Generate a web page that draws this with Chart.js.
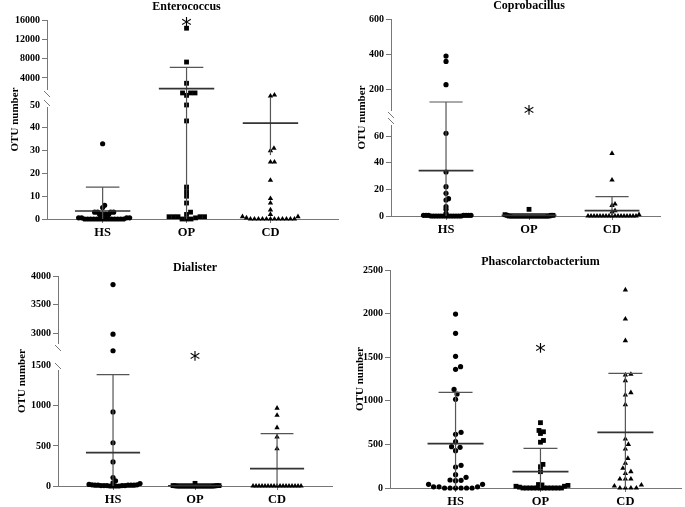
<!DOCTYPE html>
<html>
<head>
<meta charset="utf-8">
<title>OTU number by group</title>
<script src="https://cdn.jsdelivr.net/npm/chart.js@4.4.1/dist/chart.umd.min.js"></script>
<style>
  body { margin: 0; background: #fff; }
  #wrap { position: relative; width: 685px; height: 507px; }
  canvas { position: absolute; }
</style>
</head>
<body>
<div id="wrap">
  <canvas id="c1" width="342" height="245" style="left:0;top:0"></canvas>
  <canvas id="c2" width="343" height="245" style="left:342px;top:0"></canvas>
  <canvas id="c3" width="342" height="262" style="left:0;top:245px"></canvas>
  <canvas id="c4" width="343" height="262" style="left:342px;top:245px"></canvas>
</div>
<script>
const groups = ['HS', 'OP', 'CD'];
const yTitle = 'OTU number';

// Enterococcus (broken axis)
const enteroHS = [33, 6, 5, 3, 2, 3, 2, 3, 2, 2, 3, 0, 0.5, 0, 0, 0.5, 0, 0, 0, 0, 0.5, 0, 0, 0, 0, 0.5, 0, 0, 0];
const enteroOP = [14300, 7300, 2900, 900, 900, 900, 400, 50, 43, 14, 12, 10, 7, 1, 1, 3, 1, 0, 1, 0, 1, 2, 0, 0.5];
const enteroCD = [470, 270, 31, 30, 25, 25, 17, 9, 7, 4, 2, 0.5, 1, 0, 1, 0, 0, 0, 0, 0, 0, 0, 0, 0, 0, 0];
const enteroMean = [3.5, 1780, 42];
const enteroSD = [10.5, 4420, 14];
const enteroTicksLow = [0, 10, 20, 30, 40, 50];
const enteroTicksHigh = [4000, 8000, 12000, 16000];
const enteroStar = 15580;

// Coprobacillus (broken axis)
const coproHS = [390, 360, 228, 62, 33, 22, 17, 13, 12, 7, 5, 0.5, 0.5, 0, 0.5, 0, 0, 0.5, 0, 0, 0, 0, 0, 0, 0, 0.5, 0, 0, 0.5, 2, 0.5, 0];
const coproOP = [5, 0.5, 0, 0, 0.5, 0, 0, 0, 0, 0, 0, 0, 0, 0, 0, 0, 0, 0, 1, 0.5, 0, 0, 0, 0, 0, 0];
const coproCD = [47, 27, 9, 8, 4, 3, 0, 0, 0, 0, 0, 0, 0, 0, 0, 0, 0, 0, 0, 0, 0, 0, 0, 1];
const coproMean = [34, 0.5, 4];
const coproSD = [96, 0.8, 10.5];
const coproTicksLow = [0, 20, 40, 60];
const coproTicksHigh = [200, 400, 600];
const coproStar = 85;

// Dialister (broken axis)
const dialHS = [3850, 2980, 2690, 925, 540, 300, 105, 65, 40, 30, 10, 5, 15, 0, 10, 5, 0, 10, 0, 5, 10, 20, 15, 5, 0, 10, 5];
const dialOP = [0, 5, 0, 0, 3, 0, 0, 5, 0, 0, 0, 2, 0, 0, 0, 0, 0, 33, 5, 0, 0, 0, 0, 0, 0];
const dialCD = [971, 883, 729, 612, 466, 0, 0, 0, 0, 0, 0, 0, 0, 0, 0, 0, 0, 0, 0, 0, 0, 0];
const dialMean = [416, 3, 217];
const dialSD = [974, 6, 437];
const dialTicksLow = [0, 500, 1000, 1500];
const dialTicksHigh = [3000, 3500, 4000];
const dialStar = 2602;

// Phascolarctobacterium
const phascHS = [1995, 1774, 1510, 1391, 1361, 1131, 1078, 1017, 638, 616, 531, 474, 466, 428, 260, 241, 153, 122, 92, 88, 84, 42, 42, 0, 13, 0, 13, 0, 13, 0, 0, 0];
const phascOP = [749, 660, 645, 625, 545, 525, 271, 244, 187, 0, 20, 35, 40, 30, 0, 20, 0, 0, 0, 0, 10, 0, 0, 0, 0, 0, 0];
const phascCD = [2271, 1938, 1690, 1304, 1296, 1231, 1093, 1067, 955, 562, 500, 447, 340, 283, 226, 187, 168, 103, 103, 103, 34, 23, 0, 0, 0, 0];
const phascMean = [508, 187, 638];
const phascSD = [589, 268, 677];
const phascTicks = [0, 500, 1000, 1500, 2000, 2500];
const phascStar = 1605;

const panels = [
  { canvas: 'c1', x0: 0, y0: 0, title: 'Enterococcus', series: [enteroHS, enteroOP, enteroCD],
    mean: enteroMean, sd: enteroSD, star: enteroStar,
    low: { min: 0, max: 53.5, ticks: enteroTicksLow }, high: { min: 60, max: 16000, ticks: enteroTicksHigh },
    box: { left: 47, top: 20, right: 340, bottom: 219, split: 97 }, gap: [7, 10],
    xMin: 0.337, xMax: 3.805, yTitleX: 15, titleY: 7, spread: 4.5, maxHalf: 28 },
  { canvas: 'c2', x0: 342, y0: 0, title: 'Coprobacillus', series: [coproHS, coproOP, coproCD],
    mean: coproMean, sd: coproSD, star: coproStar,
    low: { min: 0, max: 72, ticks: coproTicksLow }, high: { min: 28, max: 600, ticks: coproTicksHigh },
    box: { left: 391, top: 19, right: 660, bottom: 216, split: 120 }, gap: [9, 5],
    xMin: 0.337, xMax: 3.578, yTitleX: 362, titleY: 6, spread: 4, maxHalf: 27 },
  { canvas: 'c3', x0: 0, y0: 245, title: 'Dialister', series: [dialHS, dialOP, dialCD],
    mean: dialMean, sd: dialSD, star: dialStar,
    low: { min: 0, max: 1610, ticks: dialTicksLow }, high: { min: 2580, max: 4000, ticks: dialTicksHigh },
    box: { left: 58, top: 276, right: 332, bottom: 486, split: 357 }, gap: [13, 13],
    xMin: 0.329, xMax: 3.67, yTitleX: 22, titleY: 268, spread: 4, maxHalf: 27 },
  { canvas: 'c4', x0: 342, y0: 245, title: 'Phascolarctobacterium', series: [phascHS, phascOP, phascCD],
    mean: phascMean, sd: phascSD, star: phascStar,
    low: { min: 0, max: 2500, ticks: phascTicks }, high: null,
    box: { left: 390, top: 270, right: 683, bottom: 488 },
    xMin: 0.228, xMax: 3.655, yTitleX: 360, titleY: 261.5, spread: 5.5, maxHalf: 28 }
];

const shapes = ['circle', 'rect', 'triangle'];
const radii = [2.6, 3.4, 3.1];
const axisColor = '#777';

Chart.defaults.font.family = '"Liberation Serif", "Times New Roman", serif';
Chart.defaults.font.weight = 'bold';
Chart.defaults.color = '#000';

// values above the lower segment go on the upper one
function segId(p, v) {
  return p.high && v > p.low.max ? 'yHigh' : 'yLow';
}

function segList(chart, p) {
  return p.high ? [chart.scales.yLow, chart.scales.yHigh] : [chart.scales.yLow];
}

function line(ctx, x1, y1, x2, y2) {
  ctx.beginPath();
  ctx.moveTo(x1, y1);
  ctx.lineTo(x2, y2);
  ctx.stroke();
}

function yScale(p, seg, weight, width) {
  return {
    type: 'linear',
    position: 'left',
    min: seg.min,
    max: seg.max,
    bounds: 'data',
    stack: p.high ? 'y' : undefined,
    stackWeight: weight,
    afterFit: s => { s.width = width; },
    afterBuildTicks: s => { s.ticks = seg.ticks.map(v => ({ value: v })); },
    ticks: { callback: v => String(v), autoSkip: false, color: '#000', font: { size: 10, weight: 'bold' }, padding: 2 },
    grid: { drawOnChartArea: false, tickLength: 5, color: axisColor },
    border: { color: axisColor, width: 1 }
  };
}

function decor(p) {
  return {
    id: 'decor',
    afterDatasetsDraw(chart) {
      const ctx = chart.ctx;
      const xs = chart.scales.x;
      const unit = xs.getPixelForValue(2) - xs.getPixelForValue(1);
      const segs = segList(chart, p);
      p.mean.forEach((m, gi) => {
        const cx = xs.getPixelForValue(gi + 1);
        const up = m + p.sd[gi];
        const lo = Math.max(0, m - p.sd[gi]);
        ctx.save();
        ctx.strokeStyle = '#555';
        ctx.lineWidth = 1.2;
        segs.forEach(s => {
          const a = Math.max(lo, s.min), b = Math.min(up, s.max);
          if (a < b) line(ctx, cx, s.getPixelForValue(a), cx, s.getPixelForValue(b));
        });
        const su = chart.scales[segId(p, up)];
        if (up >= su.min && up <= su.max) {
          const y = su.getPixelForValue(up);
          line(ctx, cx - 0.2 * unit, y, cx + 0.2 * unit, y);
        }
        const sm = chart.scales[segId(p, m)];
        if (m >= sm.min && m <= sm.max) {
          const y = sm.getPixelForValue(m);
          ctx.strokeStyle = '#333';
          ctx.lineWidth = 1.7;
          line(ctx, cx - 0.33 * unit, y, cx + 0.33 * unit, y);
        }
        ctx.restore();
      });
    },
    afterDraw(chart) {
      const ctx = chart.ctx;
      const ca = chart.chartArea;
      const xs = chart.scales.x;
      ctx.save();
      // axis break
      if (p.high) {
        const j = chart.scales.yHigh.bottom;
        const ax = ca.left;
        ctx.fillStyle = '#fff';
        ctx.fillRect(ax - 6, j - p.gap[0], 7.5, p.gap[0] + p.gap[1]);
        ctx.strokeStyle = axisColor;
        ctx.lineWidth = 1;
        [j - p.gap[0] + 4, j + p.gap[1] - 4].forEach(yy => line(ctx, ax - 3, yy - 3, ax + 3, yy + 3));
      }
      // titles
      ctx.fillStyle = '#000';
      ctx.textAlign = 'center';
      ctx.textBaseline = 'middle';
      ctx.font = 'bold 12px "Liberation Serif"';
      ctx.fillText(p.title, xs.getPixelForValue(2), p.titleY - p.y0);
      ctx.save();
      ctx.translate(p.yTitleX - p.x0, (ca.top + ca.bottom) / 2);
      ctx.rotate(-Math.PI / 2);
      ctx.font = 'bold 11px "Liberation Serif"';
      ctx.fillText(yTitle, 0, 0);
      ctx.restore();
      // significance mark
      const sy = chart.scales[segId(p, p.star)].getPixelForValue(p.star);
      ctx.font = '21px "DejaVu Sans"';
      ctx.textBaseline = 'alphabetic';
      ctx.fillText('*', xs.getPixelForValue(2), sy + 11);
      ctx.restore();
    }
  };
}

function place(order, py, d) {
  const off = new Array(py.length).fill(0);
  const done = [];
  for (const k of order) {
    for (let n = 0; n < 1000; n++) {
      const c = (n % 2 ? 1 : -1) * Math.ceil(n / 2) * 0.5;
      const ok = done.every(j => (off[j] - c) ** 2 + (py[j] - py[k]) ** 2 >= d * d);
      if (ok) { off[k] = c; break; }
    }
    done.push(k);
  }
  return off;
}

function swarm(chart, p) {
  const xs = chart.scales.x;
  const unit = xs.getPixelForValue(2) - xs.getPixelForValue(1);
  p.series.forEach((vals, gi) => {
    const py = vals.map(v => chart.scales[segId(p, v)].getPixelForValue(v));
    const order = vals.map((v, k) => k).sort((a, b) => vals[a] - vals[b] || a - b);
    let d = p.spread;
    let off = place(order, py, d);
    while (Math.max(...off.map(Math.abs)) > p.maxHalf && d > 1.5) {
      d *= 0.93;
      off = place(order, py, d);
    }
    chart.data.datasets.forEach(ds => {
      if (ds.gi !== gi) return;
      ds.data.forEach(pt => { pt.x = gi + 1 + off[pt.k] / unit; });
    });
  });
  chart.update('none');
}

function build(p) {
  const el = document.getElementById(p.canvas);
  const W = el.width, H = el.height;
  const left = p.box.left - p.x0, top = p.box.top - p.y0;
  const right = p.box.right - p.x0, bottom = p.box.bottom - p.y0;

  const datasets = [];
  const segNames = p.high ? ['yLow', 'yHigh'] : ['yLow'];
  p.series.forEach((vals, gi) => {
    segNames.forEach(seg => {
      const pts = vals.map((v, k) => ({ x: gi + 1, y: v, k })).filter(pt => segId(p, pt.y) === seg);
      if (!pts.length) return;
      datasets.push({
        gi, data: pts, yAxisID: seg,
        pointStyle: shapes[gi], pointRadius: radii[gi],
        backgroundColor: '#000', borderColor: '#000', borderWidth: 0,
        showLine: false, clip: false
      });
    });
  });

  const scales = {
    x: {
      type: 'linear', position: 'bottom', min: p.xMin, max: p.xMax, bounds: 'data',
      afterFit: s => { s.height = H - bottom; },
      afterBuildTicks: s => { s.ticks = groups.map((g, i) => ({ value: i + 1 })); },
      ticks: { callback: v => groups[v - 1] || '', autoSkip: false, maxRotation: 0, color: '#000',
               font: { size: 12.5, weight: 'bold' }, padding: 2 },
      grid: { drawOnChartArea: false, tickLength: 4, color: axisColor },
      border: { color: axisColor, width: 1 }
    }
  };
  if (p.high) {
    scales.yLow = yScale(p, p.low, bottom - (p.box.split - p.y0), left);
    scales.yHigh = yScale(p, p.high, (p.box.split - p.y0) - top, left);
  } else {
    scales.yLow = yScale(p, p.low, 1, left);
  }

  const chart = new Chart(el, {
    type: 'scatter',
    data: { datasets },
    options: {
      responsive: false,
      animation: false,
      events: [],
      layout: { padding: { left: 0, top, right: W - right, bottom: 0 } },
      scales,
      plugins: { legend: { display: false }, tooltip: { enabled: false }, title: { display: false } }
    },
    plugins: [decor(p)]
  });
  swarm(chart, p);
}

panels.forEach(build);
</script>
</body>
</html>
